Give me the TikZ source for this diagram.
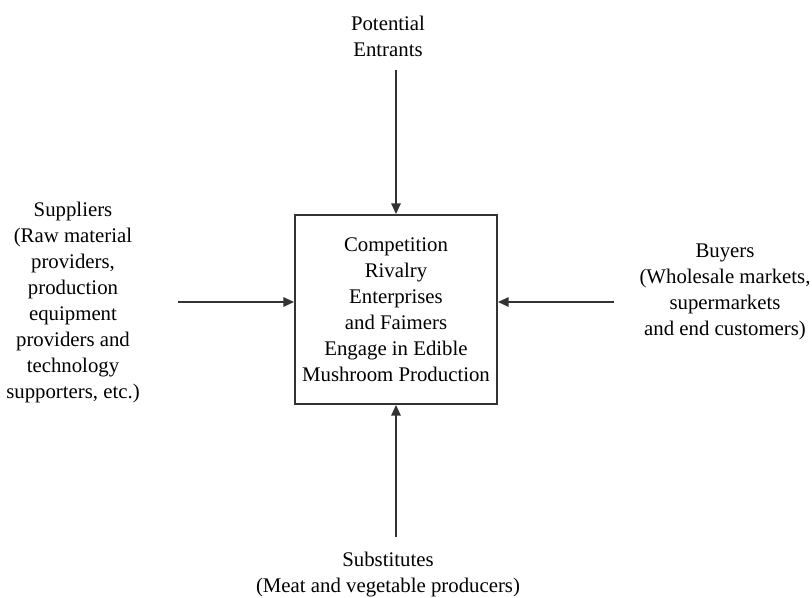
\documentclass[tikz,border=0pt]{standalone}
\usepackage{fontspec}
\setmainfont{Liberation Serif}
\usetikzlibrary{arrows.meta,positioning}
\tikzset{
  forcelabel/.style = {align=center, inner sep=0pt,
                       font=\fontsize{15.6}{19.5}\selectfont},
  rivalrybox/.style = {rectangle, draw=black!80, line width=1.4pt,
                       minimum width=151.5pt, minimum height=141.75pt,
                       align=center, inner sep=0pt,
                       font=\fontsize{15.6}{19.5}\selectfont},
  forcearrow/.style = {-{Triangle[length=8pt,width=7pt]}, line width=1.3pt, black!80},
}

\begin{document}
\begin{tikzpicture}[x=0.75pt,y=-0.75pt]

  \useasboundingbox (0,0) rectangle (812,598);

  % Centre box
  \node[rivalrybox] (rivalry) at (396,309.5)
    {Competition\\ Rivalry\\ Enterprises\\ and Faimers\\ Engage in Edible\\ Mushroom Production};

  % Five forces
  \node[forcelabel] (entrants) at (388,36) {Potential\\ Entrants};
  \node[forcelabel] (suppliers) at (73,302.5)
    {Suppliers\\ (Raw material\\ providers,\\ production\\ equipment\\ providers and\\ technology\\ supporters, etc.)};
  \node[forcelabel] (buyers) at (725,291.5)
    {Buyers\\ (Wholesale markets,\\ supermarkets\\ and end customers)};
  \node[forcelabel] (substitutes) at (388,575)
    {Substitutes\\ (Meat and vegetable producers)};

  % Free ends of the arrows
  \coordinate (entS) at (396,70);
  \coordinate (supS) at (178,302);
  \coordinate (buyS) at (614,302);
  \coordinate (subS) at (396,537);

  % Arrows into the box
  \draw[forcearrow] (entS) -- (entS |- rivalry.north);
  \draw[forcearrow] (supS) -- (supS -| rivalry.west);
  \draw[forcearrow] (buyS) -- (buyS -| rivalry.east);
  \draw[forcearrow] (subS) -- (subS |- rivalry.south);

\end{tikzpicture}
\end{document}
